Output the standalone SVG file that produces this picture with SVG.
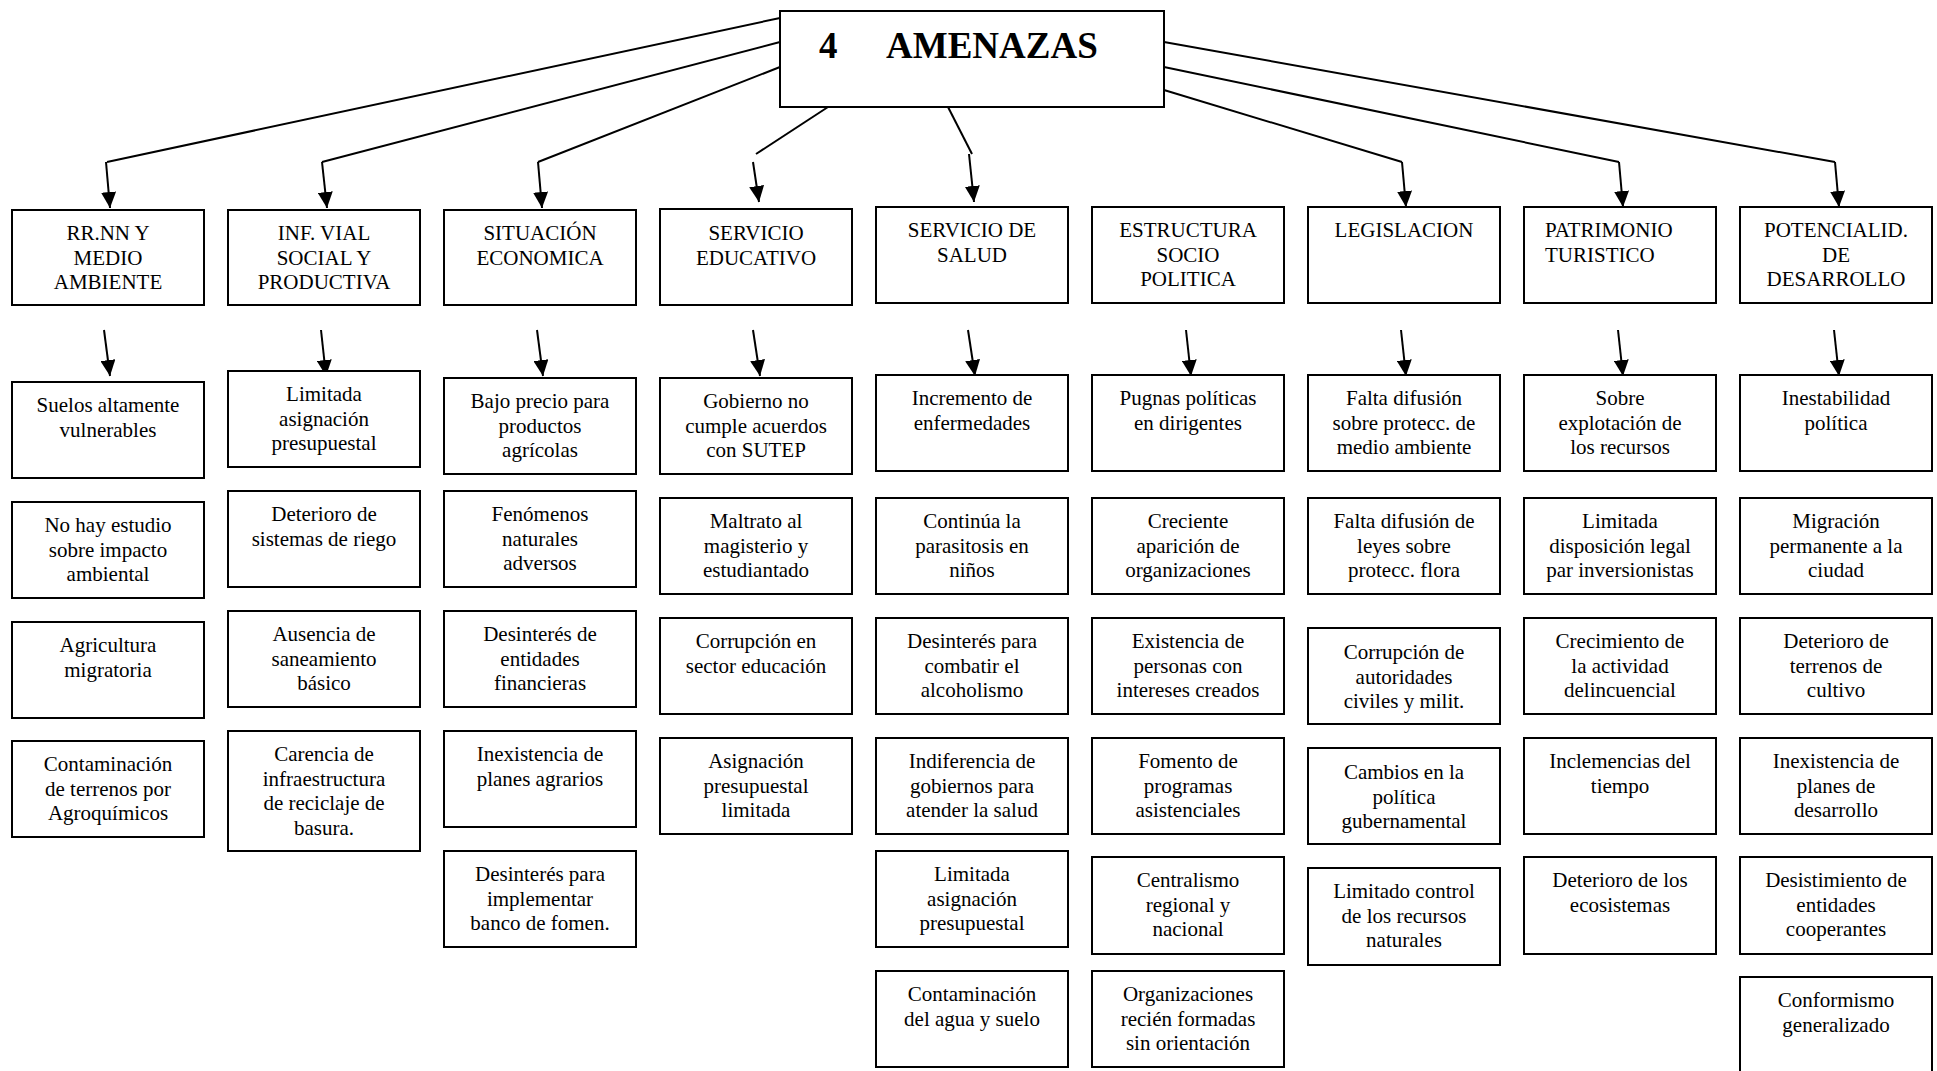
<svg xmlns="http://www.w3.org/2000/svg" width="1937" height="1071" viewBox="0 0 1937 1071">
<style>
.box{fill:#fff;stroke:#000;stroke-width:2}
.t{font-family:"Liberation Serif","Times New Roman",serif;font-size:21px;text-anchor:middle;fill:#000}
.tl{font-family:"Liberation Serif","Times New Roman",serif;font-size:21px;text-anchor:start;fill:#000}
.title{font-family:"Liberation Serif","Times New Roman",serif;font-size:37px;font-weight:bold;fill:#000}
.ln{stroke:#000;stroke-width:2;fill:none}
.ar{stroke:#000;stroke-width:2;fill:none;marker-end:url(#ah)}
</style>
<defs>
<marker id="ah" markerUnits="userSpaceOnUse" markerWidth="16" markerHeight="15" refX="16" refY="7.5" orient="auto">
<path d="M0,0 L16,7.5 L0,15 z" fill="#000"/>
</marker>
</defs>
<rect width="1937" height="1071" fill="#fff"/>

<g id="connectors">
<line class="ln" x1="780" y1="18" x2="107" y2="162"/>
<line class="ln" x1="780" y1="42" x2="322" y2="162"/>
<line class="ln" x1="780" y1="67" x2="538" y2="162"/>
<line class="ln" x1="828" y1="107" x2="756" y2="154"/>
<line class="ln" x1="948" y1="107" x2="972" y2="154"/>
<line class="ln" x1="1164" y1="90" x2="1402" y2="162"/>
<line class="ln" x1="1164" y1="67" x2="1619" y2="162"/>
<line class="ln" x1="1164" y1="42" x2="1835" y2="162"/>
<line class="ar" x1="106" y1="162" x2="110" y2="208"/>
<line class="ar" x1="322" y1="162" x2="327" y2="208"/>
<line class="ar" x1="538" y1="162" x2="542" y2="208"/>
<line class="ar" x1="753" y1="162" x2="759" y2="202"/>
<line class="ar" x1="969" y1="154" x2="974" y2="202"/>
<line class="ar" x1="1402" y1="162" x2="1406" y2="207"/>
<line class="ar" x1="1619" y1="162" x2="1623" y2="207"/>
<line class="ar" x1="1835" y1="162" x2="1839" y2="207"/>
<line class="ar" x1="104" y1="330" x2="110" y2="376"/>
<line class="ar" x1="321" y1="330" x2="326" y2="376"/>
<line class="ar" x1="537" y1="330" x2="543" y2="376"/>
<line class="ar" x1="753" y1="330" x2="760" y2="376"/>
<line class="ar" x1="968" y1="330" x2="975" y2="376"/>
<line class="ar" x1="1186" y1="330" x2="1191" y2="376"/>
<line class="ar" x1="1401" y1="330" x2="1406" y2="376"/>
<line class="ar" x1="1618" y1="330" x2="1623" y2="376"/>
<line class="ar" x1="1834" y1="330" x2="1839" y2="376"/>
</g>

<g id="root">
<rect class="box" x="780" y="11" width="384" height="96"/>
<text class="title" y="58"><tspan x="819">4</tspan><tspan x="886">AMENAZAS</tspan></text>
</g>

<!-- Headers -->
<g id="h1"><rect class="box" x="12" y="210" width="192" height="95"/>
<text class="t" y="240"><tspan x="108">RR.NN Y</tspan><tspan x="108" dy="24.6">MEDIO</tspan><tspan x="108" dy="24.6">AMBIENTE</tspan></text></g>
<g id="h2"><rect class="box" x="228" y="210" width="192" height="95"/>
<text class="t" y="240"><tspan x="324">INF. VIAL</tspan><tspan x="324" dy="24.6">SOCIAL Y</tspan><tspan x="324" dy="24.6">PRODUCTIVA</tspan></text></g>
<g id="h3"><rect class="box" x="444" y="210" width="192" height="95"/>
<text class="t" y="240"><tspan x="540">SITUACIÓN</tspan><tspan x="540" dy="24.6">ECONOMICA</tspan></text></g>
<g id="h4"><rect class="box" x="660" y="209" width="192" height="96"/>
<text class="t" y="240"><tspan x="756">SERVICIO</tspan><tspan x="756" dy="24.6">EDUCATIVO</tspan></text></g>
<g id="h5"><rect class="box" x="876" y="207" width="192" height="96"/>
<text class="t" y="237"><tspan x="972">SERVICIO DE</tspan><tspan x="972" dy="24.6">SALUD</tspan></text></g>
<g id="h6"><rect class="box" x="1092" y="207" width="192" height="96"/>
<text class="t" y="237"><tspan x="1188">ESTRUCTURA</tspan><tspan x="1188" dy="24.6">SOCIO</tspan><tspan x="1188" dy="24.6">POLITICA</tspan></text></g>
<g id="h7"><rect class="box" x="1308" y="207" width="192" height="96"/>
<text class="t" y="237"><tspan x="1404">LEGISLACION</tspan></text></g>
<g id="h8"><rect class="box" x="1524" y="207" width="192" height="96"/>
<text class="tl" y="237"><tspan x="1545">PATRIMONIO</tspan><tspan x="1545" dy="24.6">TURISTICO</tspan></text></g>
<g id="h9"><rect class="box" x="1740" y="207" width="192" height="96"/>
<text class="t" y="237"><tspan x="1836">POTENCIALID.</tspan><tspan x="1836" dy="24.6">DE</tspan><tspan x="1836" dy="24.6">DESARROLLO</tspan></text></g>

<!-- Column 1 -->
<g id="c1b1"><rect class="box" x="12" y="382" width="192" height="96"/>
<text class="t" y="412"><tspan x="108">Suelos altamente</tspan><tspan x="108" dy="24.6">vulnerables</tspan></text></g>
<g id="c1b2"><rect class="box" x="12" y="502" width="192" height="96"/>
<text class="t" y="532"><tspan x="108">No hay estudio</tspan><tspan x="108" dy="24.6">sobre impacto</tspan><tspan x="108" dy="24.6">ambiental</tspan></text></g>
<g id="c1b3"><rect class="box" x="12" y="622" width="192" height="96"/>
<text class="t" y="652"><tspan x="108">Agricultura</tspan><tspan x="108" dy="24.6">migratoria</tspan></text></g>
<g id="c1b4"><rect class="box" x="12" y="741" width="192" height="96"/>
<text class="t" y="771"><tspan x="108">Contaminación</tspan><tspan x="108" dy="24.6">de terrenos por</tspan><tspan x="108" dy="24.6">Agroquímicos</tspan></text></g>

<!-- Column 2 -->
<g id="c2b1"><rect class="box" x="228" y="371" width="192" height="96"/>
<text class="t" y="401"><tspan x="324">Limitada</tspan><tspan x="324" dy="24.6">asignación</tspan><tspan x="324" dy="24.6">presupuestal</tspan></text></g>
<g id="c2b2"><rect class="box" x="228" y="491" width="192" height="96"/>
<text class="t" y="521"><tspan x="324">Deterioro de</tspan><tspan x="324" dy="24.6">sistemas de riego</tspan></text></g>
<g id="c2b3"><rect class="box" x="228" y="611" width="192" height="96"/>
<text class="t" y="641"><tspan x="324">Ausencia de</tspan><tspan x="324" dy="24.6">saneamiento</tspan><tspan x="324" dy="24.6">básico</tspan></text></g>
<g id="c2b4"><rect class="box" x="228" y="731" width="192" height="120"/>
<text class="t" y="761"><tspan x="324">Carencia de</tspan><tspan x="324" dy="24.6">infraestructura</tspan><tspan x="324" dy="24.6">de reciclaje de</tspan><tspan x="324" dy="24.6">basura.</tspan></text></g>

<!-- Column 3 -->
<g id="c3b1"><rect class="box" x="444" y="378" width="192" height="96"/>
<text class="t" y="408"><tspan x="540">Bajo precio para</tspan><tspan x="540" dy="24.6">productos</tspan><tspan x="540" dy="24.6">agrícolas</tspan></text></g>
<g id="c3b2"><rect class="box" x="444" y="491" width="192" height="96"/>
<text class="t" y="521"><tspan x="540">Fenómenos</tspan><tspan x="540" dy="24.6">naturales</tspan><tspan x="540" dy="24.6">adversos</tspan></text></g>
<g id="c3b3"><rect class="box" x="444" y="611" width="192" height="96"/>
<text class="t" y="641"><tspan x="540">Desinterés de</tspan><tspan x="540" dy="24.6">entidades</tspan><tspan x="540" dy="24.6">financieras</tspan></text></g>
<g id="c3b4"><rect class="box" x="444" y="731" width="192" height="96"/>
<text class="t" y="761"><tspan x="540">Inexistencia de</tspan><tspan x="540" dy="24.6">planes agrarios</tspan></text></g>
<g id="c3b5"><rect class="box" x="444" y="851" width="192" height="96"/>
<text class="t" y="881"><tspan x="540">Desinterés para</tspan><tspan x="540" dy="24.6">implementar</tspan><tspan x="540" dy="24.6">banco de fomen.</tspan></text></g>

<!-- Column 4 -->
<g id="c4b1"><rect class="box" x="660" y="378" width="192" height="96"/>
<text class="t" y="408"><tspan x="756">Gobierno no</tspan><tspan x="756" dy="24.6">cumple acuerdos</tspan><tspan x="756" dy="24.6">con SUTEP</tspan></text></g>
<g id="c4b2"><rect class="box" x="660" y="498" width="192" height="96"/>
<text class="t" y="528"><tspan x="756">Maltrato al</tspan><tspan x="756" dy="24.6">magisterio y</tspan><tspan x="756" dy="24.6">estudiantado</tspan></text></g>
<g id="c4b3"><rect class="box" x="660" y="618" width="192" height="96"/>
<text class="t" y="648"><tspan x="756">Corrupción en</tspan><tspan x="756" dy="24.6">sector educación</tspan></text></g>
<g id="c4b4"><rect class="box" x="660" y="738" width="192" height="96"/>
<text class="t" y="768"><tspan x="756">Asignación</tspan><tspan x="756" dy="24.6">presupuestal</tspan><tspan x="756" dy="24.6">limitada</tspan></text></g>

<!-- Column 5 -->
<g id="c5b1"><rect class="box" x="876" y="375" width="192" height="96"/>
<text class="t" y="405"><tspan x="972">Incremento de</tspan><tspan x="972" dy="24.6">enfermedades</tspan></text></g>
<g id="c5b2"><rect class="box" x="876" y="498" width="192" height="96"/>
<text class="t" y="528"><tspan x="972">Continúa la</tspan><tspan x="972" dy="24.6">parasitosis en</tspan><tspan x="972" dy="24.6">niños</tspan></text></g>
<g id="c5b3"><rect class="box" x="876" y="618" width="192" height="96"/>
<text class="t" y="648"><tspan x="972">Desinterés para</tspan><tspan x="972" dy="24.6">combatir el</tspan><tspan x="972" dy="24.6">alcoholismo</tspan></text></g>
<g id="c5b4"><rect class="box" x="876" y="738" width="192" height="96"/>
<text class="t" y="768"><tspan x="972">Indiferencia de</tspan><tspan x="972" dy="24.6">gobiernos para</tspan><tspan x="972" dy="24.6">atender la salud</tspan></text></g>
<g id="c5b5"><rect class="box" x="876" y="851" width="192" height="96"/>
<text class="t" y="881"><tspan x="972">Limitada</tspan><tspan x="972" dy="24.6">asignación</tspan><tspan x="972" dy="24.6">presupuestal</tspan></text></g>
<g id="c5b6"><rect class="box" x="876" y="971" width="192" height="96"/>
<text class="t" y="1001"><tspan x="972">Contaminación</tspan><tspan x="972" dy="24.6">del agua y suelo</tspan></text></g>

<!-- Column 6 -->
<g id="c6b1"><rect class="box" x="1092" y="375" width="192" height="96"/>
<text class="t" y="405"><tspan x="1188">Pugnas políticas</tspan><tspan x="1188" dy="24.6">en dirigentes</tspan></text></g>
<g id="c6b2"><rect class="box" x="1092" y="498" width="192" height="96"/>
<text class="t" y="528"><tspan x="1188">Creciente</tspan><tspan x="1188" dy="24.6">aparición de</tspan><tspan x="1188" dy="24.6">organizaciones</tspan></text></g>
<g id="c6b3"><rect class="box" x="1092" y="618" width="192" height="96"/>
<text class="t" y="648"><tspan x="1188">Existencia de</tspan><tspan x="1188" dy="24.6">personas con</tspan><tspan x="1188" dy="24.6">intereses creados</tspan></text></g>
<g id="c6b4"><rect class="box" x="1092" y="738" width="192" height="96"/>
<text class="t" y="768"><tspan x="1188">Fomento de</tspan><tspan x="1188" dy="24.6">programas</tspan><tspan x="1188" dy="24.6">asistenciales</tspan></text></g>
<g id="c6b5"><rect class="box" x="1092" y="857" width="192" height="97"/>
<text class="t" y="887"><tspan x="1188">Centralismo</tspan><tspan x="1188" dy="24.6">regional y</tspan><tspan x="1188" dy="24.6">nacional</tspan></text></g>
<g id="c6b6"><rect class="box" x="1092" y="971" width="192" height="96"/>
<text class="t" y="1001"><tspan x="1188">Organizaciones</tspan><tspan x="1188" dy="24.6">recién formadas</tspan><tspan x="1188" dy="24.6">sin orientación</tspan></text></g>

<!-- Column 7 -->
<g id="c7b1"><rect class="box" x="1308" y="375" width="192" height="96"/>
<text class="t" y="405"><tspan x="1404">Falta difusión</tspan><tspan x="1404" dy="24.6">sobre protecc. de</tspan><tspan x="1404" dy="24.6">medio ambiente</tspan></text></g>
<g id="c7b2"><rect class="box" x="1308" y="498" width="192" height="96"/>
<text class="t" y="528"><tspan x="1404">Falta difusión de</tspan><tspan x="1404" dy="24.6">leyes sobre</tspan><tspan x="1404" dy="24.6">protecc. flora</tspan></text></g>
<g id="c7b3"><rect class="box" x="1308" y="628" width="192" height="96"/>
<text class="t" y="659"><tspan x="1404">Corrupción de</tspan><tspan x="1404" dy="24.6">autoridades</tspan><tspan x="1404" dy="24.6">civiles y milit.</tspan></text></g>
<g id="c7b4"><rect class="box" x="1308" y="748" width="192" height="96"/>
<text class="t" y="779"><tspan x="1404">Cambios en la</tspan><tspan x="1404" dy="24.6">política</tspan><tspan x="1404" dy="24.6">gubernamental</tspan></text></g>
<g id="c7b5"><rect class="box" x="1308" y="868" width="192" height="97"/>
<text class="t" y="898"><tspan x="1404">Limitado control</tspan><tspan x="1404" dy="24.6">de los recursos</tspan><tspan x="1404" dy="24.6">naturales</tspan></text></g>

<!-- Column 8 -->
<g id="c8b1"><rect class="box" x="1524" y="375" width="192" height="96"/>
<text class="t" y="405"><tspan x="1620">Sobre</tspan><tspan x="1620" dy="24.6">explotación de</tspan><tspan x="1620" dy="24.6">los recursos</tspan></text></g>
<g id="c8b2"><rect class="box" x="1524" y="498" width="192" height="96"/>
<text class="t" y="528"><tspan x="1620">Limitada</tspan><tspan x="1620" dy="24.6">disposición legal</tspan><tspan x="1620" dy="24.6">par inversionistas</tspan></text></g>
<g id="c8b3"><rect class="box" x="1524" y="618" width="192" height="96"/>
<text class="t" y="648"><tspan x="1620">Crecimiento de</tspan><tspan x="1620" dy="24.6">la actividad</tspan><tspan x="1620" dy="24.6">delincuencial</tspan></text></g>
<g id="c8b4"><rect class="box" x="1524" y="738" width="192" height="96"/>
<text class="t" y="768"><tspan x="1620">Inclemencias del</tspan><tspan x="1620" dy="24.6">tiempo</tspan></text></g>
<g id="c8b5"><rect class="box" x="1524" y="857" width="192" height="97"/>
<text class="t" y="887"><tspan x="1620">Deterioro de los</tspan><tspan x="1620" dy="24.6">ecosistemas</tspan></text></g>

<!-- Column 9 -->
<g id="c9b1"><rect class="box" x="1740" y="375" width="192" height="96"/>
<text class="t" y="405"><tspan x="1836">Inestabilidad</tspan><tspan x="1836" dy="24.6">política</tspan></text></g>
<g id="c9b2"><rect class="box" x="1740" y="498" width="192" height="96"/>
<text class="t" y="528"><tspan x="1836">Migración</tspan><tspan x="1836" dy="24.6">permanente a la</tspan><tspan x="1836" dy="24.6">ciudad</tspan></text></g>
<g id="c9b3"><rect class="box" x="1740" y="618" width="192" height="96"/>
<text class="t" y="648"><tspan x="1836">Deterioro de</tspan><tspan x="1836" dy="24.6">terrenos de</tspan><tspan x="1836" dy="24.6">cultivo</tspan></text></g>
<g id="c9b4"><rect class="box" x="1740" y="738" width="192" height="96"/>
<text class="t" y="768"><tspan x="1836">Inexistencia de</tspan><tspan x="1836" dy="24.6">planes de</tspan><tspan x="1836" dy="24.6">desarrollo</tspan></text></g>
<g id="c9b5"><rect class="box" x="1740" y="857" width="192" height="97"/>
<text class="t" y="887"><tspan x="1836">Desistimiento de</tspan><tspan x="1836" dy="24.6">entidades</tspan><tspan x="1836" dy="24.6">cooperantes</tspan></text></g>
<g id="c9b6"><rect class="box" x="1740" y="977" width="192" height="100"/>
<text class="t" y="1007"><tspan x="1836">Conformismo</tspan><tspan x="1836" dy="24.6">generalizado</tspan></text></g>
</svg>
